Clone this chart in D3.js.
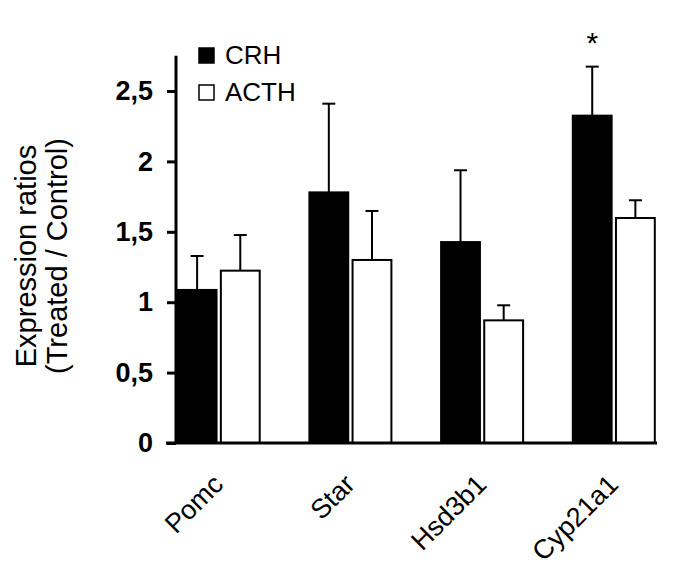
<!DOCTYPE html>
<html><head><meta charset="utf-8">
<script src="https://cdn.jsdelivr.net/npm/d3@7"></script>
<style>body{margin:0;background:#fff}</style>
</head><body>
<svg id="c" width="685" height="583"></svg>
<script>
const categories = ["Pomc", "Star", "Hsd3b1", "Cyp21a1"];
const seriesNames = ["CRH", "ACTH"];
const crhValues = [1.087, 1.78, 1.427, 2.325];
const crhErrors = [0.241, 0.63, 0.51, 0.348];
const acthValues = [1.224, 1.30, 0.871, 1.598];
const acthErrors = [0.253, 0.348, 0.107, 0.126];
const yTicks = [0, 0.5, 1, 1.5, 2, 2.5];
const significant = [false, false, false, true];

const svg = d3.select("#c");
const font = "'Liberation Sans', Arial, sans-serif";
const y = d3.scaleLinear().domain([0, 2.75]).range([443, 55.8]);
const x = d3.scaleBand().domain(categories).range([152.85, 679.65]).padding(0);
const inner = d3.scaleBand().domain(seriesNames).range([-41, 41]).paddingInner(0.1);

const fills = {CRH: "#000", ACTH: "#fff"};
const data = [];
categories.forEach((c, i) => {
  data.push({cat: c, s: "CRH", v: crhValues[i], e: crhErrors[i], sig: significant[i]});
  data.push({cat: c, s: "ACTH", v: acthValues[i], e: acthErrors[i], sig: false});
});

const g = svg.append("g");
g.selectAll("rect.bar").data(data).join("rect")
  .attr("x", d => x(d.cat) + x.bandwidth()/2 + inner(d.s))
  .attr("y", d => y(d.v))
  .attr("width", inner.bandwidth())
  .attr("height", d => y(0) - y(d.v))
  .attr("fill", d => fills[d.s])
  .attr("stroke", "#000").attr("stroke-width", 2);

const cx = d => x(d.cat) + x.bandwidth()/2 + inner(d.s) + inner.bandwidth()/2;
g.selectAll("line.err").data(data).join("line")
  .attr("x1", cx).attr("x2", cx)
  .attr("y1", d => y(d.v)).attr("y2", d => y(d.v + d.e))
  .attr("stroke", "#000").attr("stroke-width", 2);
g.selectAll("line.cap").data(data).join("line")
  .attr("x1", d => cx(d) - 6.5).attr("x2", d => cx(d) + 6.5)
  .attr("y1", d => y(d.v + d.e)).attr("y2", d => y(d.v + d.e))
  .attr("stroke", "#000").attr("stroke-width", 2);

g.selectAll("text.sig").data(data.filter(d => d.sig)).join("text")
  .attr("x", cx).attr("y", d => y(d.v + d.e) - 14)
  .attr("text-anchor", "middle").attr("font-family", font)
  .attr("font-size", 30).text("*");

const yAxis = d3.axisLeft(y).tickValues(yTicks).tickSize(9).tickPadding(14)
  .tickFormat(d => d3.format("")(d).replace(".", ","));
const ya = svg.append("g").attr("transform", "translate(176,0)").call(yAxis);
ya.select(".domain").attr("stroke-width", 3).attr("d", `M0,${y(0)}V${y(2.75)}`);
ya.selectAll(".tick line").attr("stroke-width", 3);
ya.selectAll(".tick text").attr("font-family", font).attr("font-size", 27)
  .attr("font-weight", "bold").attr("fill", "#000");

svg.append("line").attr("x1", 166).attr("x2", 657).attr("y1", y(0)).attr("y2", y(0))
  .attr("stroke", "#000").attr("stroke-width", 3);

svg.selectAll("text.xl").data(categories).join("text")
  .attr("transform", d => `translate(${x(d) + x.bandwidth()/2 + 6},${486}) rotate(-45)`)
  .attr("text-anchor", "end").attr("font-family", font).attr("font-size", 27)
  .text(d => d);

const yl = svg.append("text").attr("transform", "translate(36,256) rotate(-90)")
  .attr("text-anchor", "middle").attr("font-family", font).attr("font-size", 29);
yl.append("tspan").attr("x", 0).attr("dy", 0).text("Expression ratios");
yl.append("tspan").attr("x", 0).attr("dy", 31).text("(Treated / Control)");

const leg = svg.append("g");
seriesNames.forEach((s, i) => {
  leg.append("rect").attr("x", 199).attr("y", 48 + i*37).attr("width", 15).attr("height", 15)
    .attr("fill", fills[s]).attr("stroke", "#000").attr("stroke-width", 1.5);
  leg.append("text").attr("x", 225).attr("y", 64 + i*37).attr("font-family", font)
    .attr("font-size", 26).text(s);
});
</script>
</body></html>
